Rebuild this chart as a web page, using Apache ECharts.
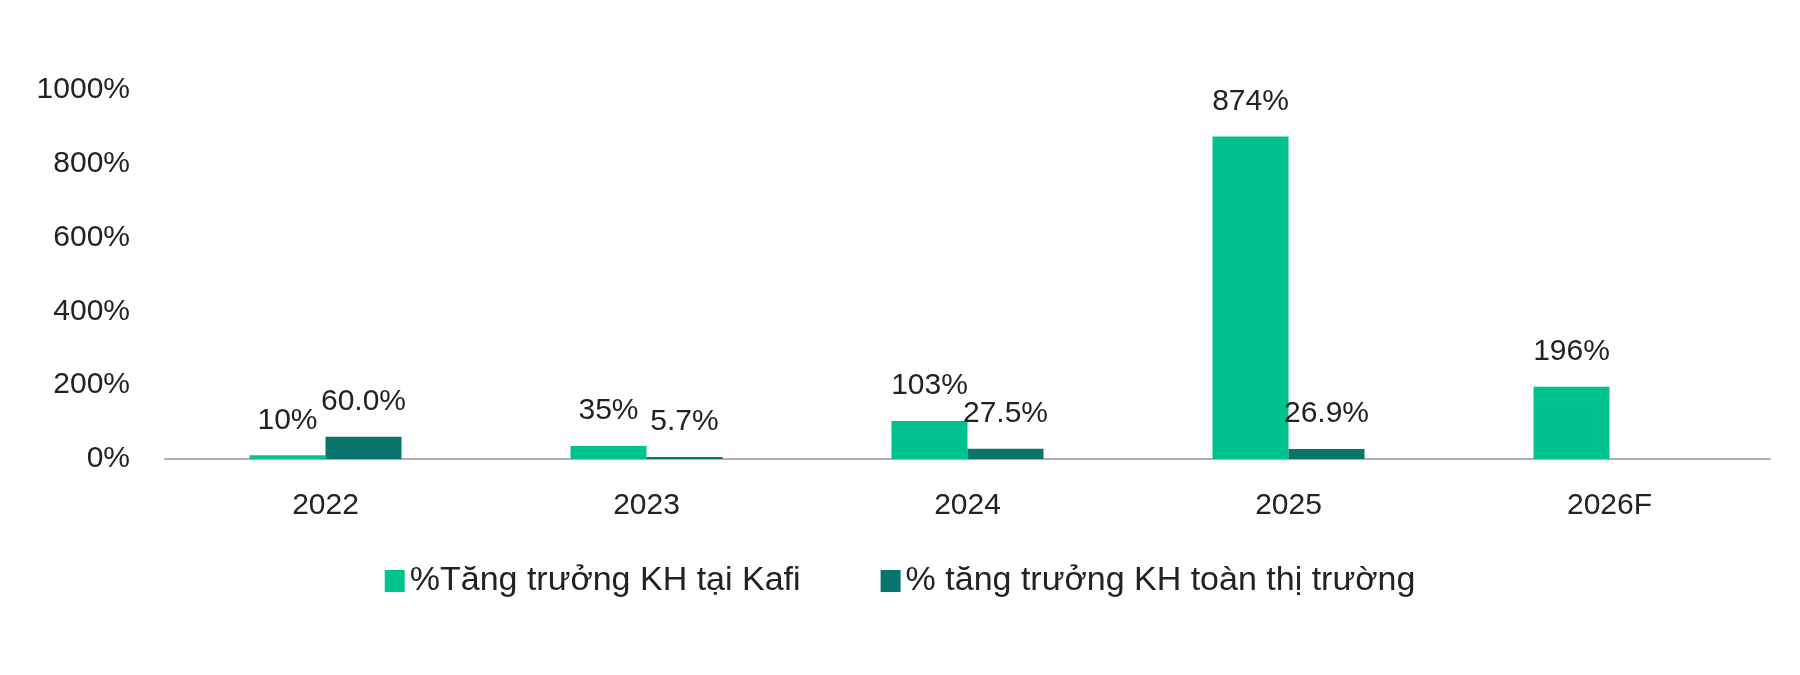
<!DOCTYPE html>
<html><head><meta charset="utf-8">
<script src="https://cdn.jsdelivr.net/npm/echarts@6/dist/echarts.min.js"></script>
<style>html,body{margin:0;padding:0;background:#fff}#c{width:1800px;height:675px}</style>
</head><body><div id="c"></div>
<script>
const categories = ['2022','2023','2024','2025','2026F'];
const kafiGrowth = [10, 35, 103, 874, 196];
const kafiLabels = ['10%','35%','103%','874%','196%'];
const marketGrowth = [60.0, 5.7, 27.5, 26.9, null];
const marketLabels = ['60.0%','5.7%','27.5%','26.9%',''];
const seriesNames = ['%Tăng trưởng KH tại Kafi', '% tăng trưởng KH toàn thị trường'];
const yTicks = [0, 200, 400, 600, 800, 1000];

const font = 'Liberation Sans, Arial, sans-serif';
const chart = echarts.init(document.getElementById('c'));
chart.setOption({
  animation: false,
  textStyle: {fontFamily: font},
  legend: {
    bottom: 72, left: 'center', itemGap: 80, itemWidth: 20, itemHeight: 22,
    icon: 'rect', textStyle: {fontSize: 34, color: '#222', fontFamily: font},
    data: seriesNames
  },
  grid: {left: 165, right: braw = 30, top: 90, bottom: 216, containLabel: false},
  xAxis: {
    type: 'category', data: categories,
    axisLine: {lineStyle: {color: '#b0b0b0', width: 2}},
    axisTick: {show: false},
    axisLabel: {fontSize: 30, color: '#222', margin: 32, fontFamily: font}
  },
  yAxis: {
    type: 'value', min: yTicks[0], max: yTicks[yTicks.length-1], interval: 200,
    splitLine: {show: false}, axisLine: {show: false}, axisTick: {show: false},
    axisLabel: {fontSize: 30, color: '#222', margin: 35, formatter: v => v + '%', fontFamily: font}
  },
  series: [
    {
      name: seriesNames[0], type: 'bar', data: kafiGrowth, barWidth: 76, barGap: '0%',
      itemStyle: {color: '#00C28F'},
      label: {show: true, position: 'top', distance: 20, fontSize: 30, color: '#222',
        formatter: p => kafiLabels[p.dataIndex]}
    },
    {
      name: seriesNames[1], type: 'bar', data: marketGrowth, barWidth: 76,
      itemStyle: {color: '#08756B'},
      label: {show: true, position: 'top', distance: 20, fontSize: 30, color: '#222',
        formatter: p => marketLabels[p.dataIndex]}
    }
  ]
});
</script></body></html>
